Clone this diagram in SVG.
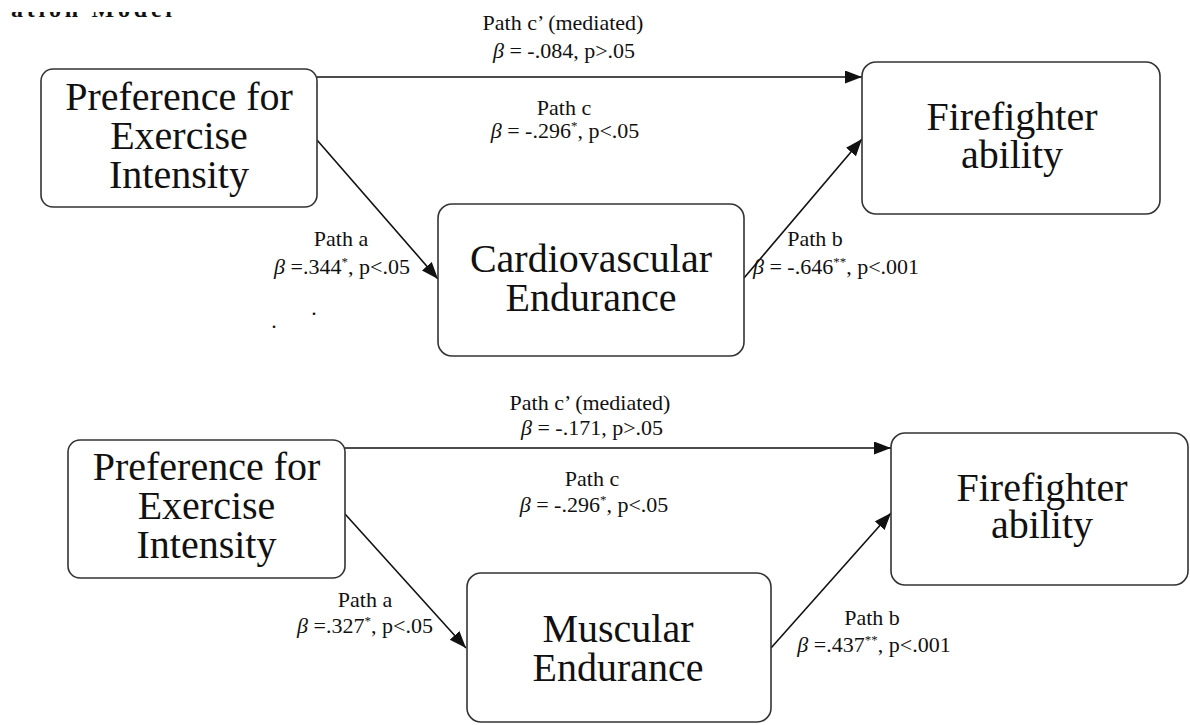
<svg xmlns="http://www.w3.org/2000/svg" width="1190" height="725" viewBox="0 0 1190 725">
<style>
.box{fill:#fff;stroke:#333;stroke-width:1.6}
.nt{font-family:"Liberation Serif","Times New Roman",serif;font-size:40px;fill:#111;text-anchor:middle}
.lb{font-family:"Liberation Serif","Times New Roman",serif;font-size:22px;fill:#111;text-anchor:middle}
.b{font-style:italic}
.sup{font-size:13px}
.edge{stroke:#111;stroke-width:1.6;fill:none;marker-end:url(#ah)}
.title{font-family:"Liberation Serif","Times New Roman",serif;font-size:24px;font-weight:bold;fill:#111}
</style>
<defs>
<marker id="ah" markerUnits="userSpaceOnUse" markerWidth="18" markerHeight="14" refX="17" refY="6.5" orient="auto">
<path d="M0,0 L17,6.5 L0,13 z" fill="#111"/>
</marker>
<clipPath id="tc"><rect x="0" y="12" width="300" height="8"/></clipPath>
</defs>
<rect width="1190" height="725" fill="#fff"/>
<text class="title" x="11" y="17" clip-path="url(#tc)" textLength="161">ation Model</text>

<g id="connectors">
<line class="edge" x1="317" y1="77" x2="862" y2="77"/>
<line class="edge" x1="317" y1="140" x2="438" y2="279"/>
<line class="edge" x1="744" y1="278" x2="862" y2="139"/>
<line class="edge" x1="345" y1="448" x2="891" y2="448"/>
<line class="edge" x1="345" y1="514" x2="466" y2="648"/>
<line class="edge" x1="771" y1="648" x2="891" y2="513"/>
</g>

<g id="labels">
<text class="lb" x="563" y="30">Path c’ (mediated)</text>
<text class="lb" x="564" y="58"><tspan class="b">β</tspan> = -.084, p&gt;.05</text>
<text class="lb" x="564" y="115">Path c</text>
<text class="lb" x="565" y="138"><tspan class="b">β</tspan> = -.296<tspan class="sup" dy="-8">*</tspan><tspan dy="8">, p&lt;.05</tspan></text>
<text class="lb" x="341" y="246">Path a</text>
<text class="lb" x="342" y="274"><tspan class="b">β</tspan> =.344<tspan class="sup" dy="-8">*</tspan><tspan dy="8">, p&lt;.05</tspan></text>
<text class="lb" x="815" y="246">Path b</text>
<text class="lb" x="836" y="274"><tspan class="b">β</tspan> = -.646<tspan class="sup" dy="-8">**</tspan><tspan dy="8">, p&lt;.001</tspan></text>
<text class="lb" x="314" y="315">.</text>
<text class="lb" x="274" y="328">.</text>

<text class="lb" x="590" y="410">Path c’ (mediated)</text>
<text class="lb" x="592" y="435"><tspan class="b">β</tspan> = -.171, p&gt;.05</text>
<text class="lb" x="592" y="486">Path c</text>
<text class="lb" x="594" y="512"><tspan class="b">β</tspan> = -.296<tspan class="sup" dy="-8">*</tspan><tspan dy="8">, p&lt;.05</tspan></text>
<text class="lb" x="365" y="607">Path a</text>
<text class="lb" x="365" y="633"><tspan class="b">β</tspan> =.327<tspan class="sup" dy="-8">*</tspan><tspan dy="8">, p&lt;.05</tspan></text>
<text class="lb" x="872" y="625">Path b</text>
<text class="lb" x="874" y="652"><tspan class="b">β</tspan> =.437<tspan class="sup" dy="-8">**</tspan><tspan dy="8">, p&lt;.001</tspan></text>
</g>

<g id="pref1">
<rect class="box" x="41" y="69" width="276" height="138" rx="12"/>
<text class="nt" x="179" y="110">Preference for</text>
<text class="nt" x="179" y="149">Exercise</text>
<text class="nt" x="179" y="188">Intensity</text>
</g>
<g id="fire1">
<rect class="box" x="862" y="62" width="298" height="152" rx="14"/>
<text class="nt" x="1012" y="130">Firefighter</text>
<text class="nt" x="1012" y="168">ability</text>
</g>
<g id="cardio">
<rect class="box" x="438" y="204" width="306" height="152" rx="14"/>
<text class="nt" x="591" y="272">Cardiovascular</text>
<text class="nt" x="591" y="311">Endurance</text>
</g>
<g id="pref2">
<rect class="box" x="68" y="440" width="277" height="138" rx="12"/>
<text class="nt" x="206.5" y="480">Preference for</text>
<text class="nt" x="206.5" y="519">Exercise</text>
<text class="nt" x="206.5" y="558">Intensity</text>
</g>
<g id="fire2">
<rect class="box" x="891" y="433" width="297" height="152" rx="14"/>
<text class="nt" x="1042" y="501">Firefighter</text>
<text class="nt" x="1042" y="538">ability</text>
</g>
<g id="muscular">
<rect class="box" x="467" y="573" width="304" height="149" rx="14"/>
<text class="nt" x="618" y="642">Muscular</text>
<text class="nt" x="618" y="681">Endurance</text>
</g>
</svg>
